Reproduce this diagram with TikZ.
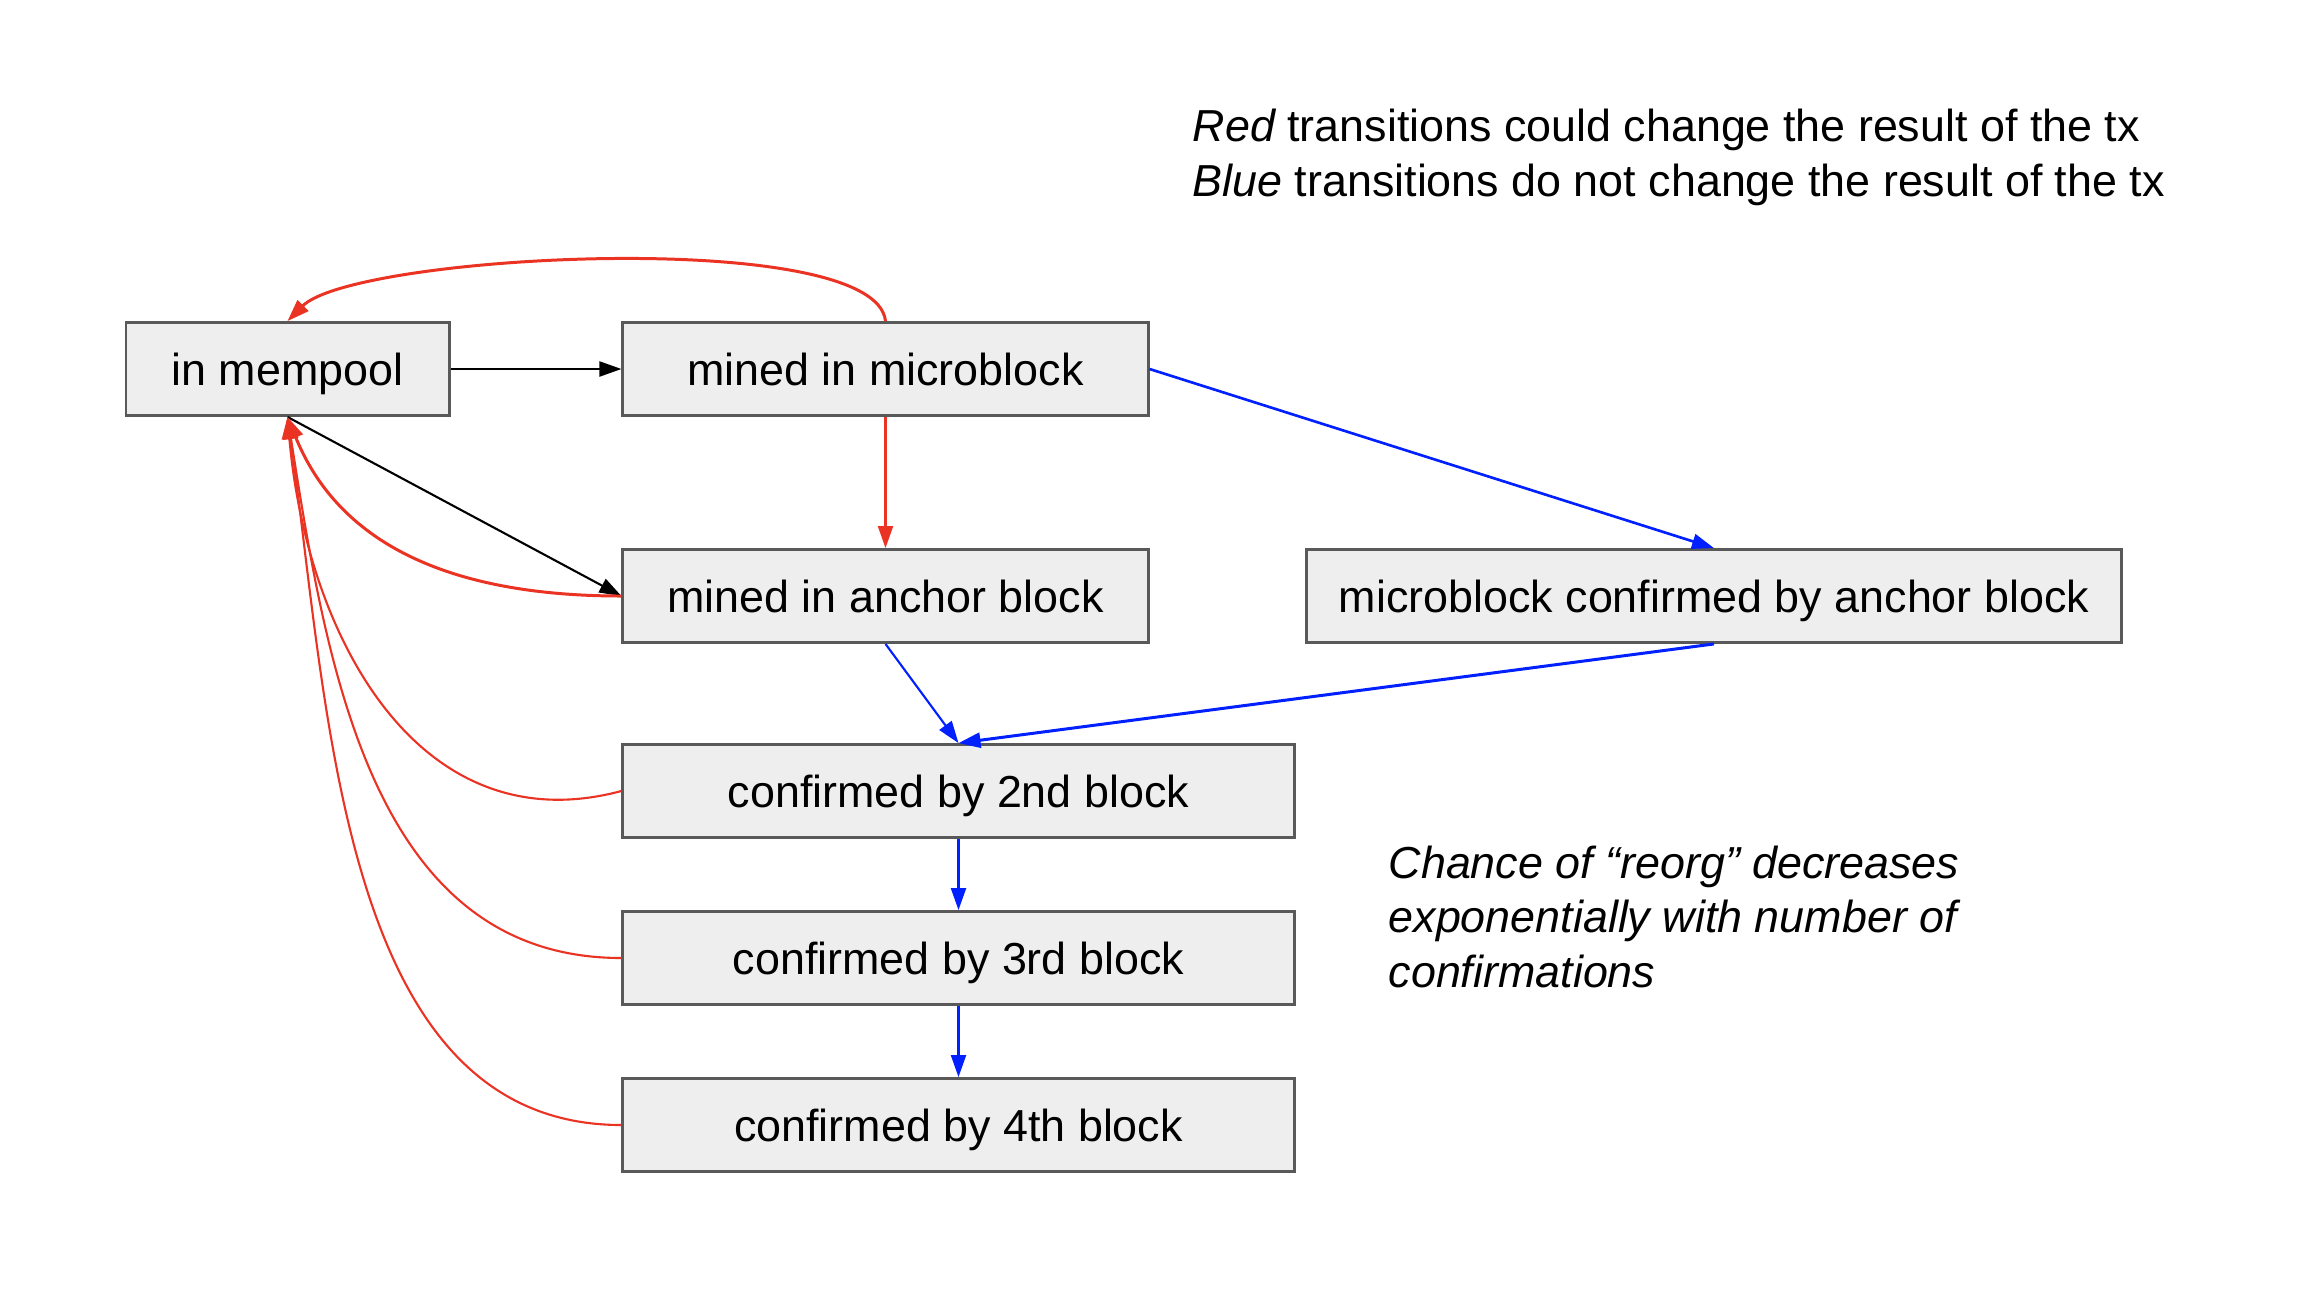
\documentclass[tikz,border=0pt]{standalone}
\usepackage{fontspec}
\setmainfont{Liberation Sans}
\usetikzlibrary{arrows.meta}
\definecolor{boxfill}{RGB}{238,238,238}
\definecolor{boxline}{RGB}{89,89,89}
\definecolor{tred}{RGB}{234,51,35}
\definecolor{tblue}{RGB}{0,32,255}

\begin{document}
\begin{tikzpicture}[x=0.01cm, y=-0.01cm, >={Triangle[length=2.2mm, width=1.5mm]},
    box/.style={draw=boxline, fill=boxfill, line width=0.8pt, minimum height=0.93cm,
        inner sep=0pt, text height=9.1pt, text depth=0pt, font=\fontsize{12.75}{15.4}\selectfont},
    note/.style={anchor=base west, align=left, inner sep=0pt},
    redln/.style={->, color=tred, line width=0.6pt},
    blueln/.style={->, color=tblue, line width=0.6pt}]
    \useasboundingbox (0,0) rectangle (2300,1290);
    % states of the tx
    \node[box, minimum width=3.23cm] (pool) at (287.5,369) {in mempool};
    \node[box, minimum width=5.25cm] (micro) at (885.5,369) {mined in microblock};
    \node[box, minimum width=5.25cm] (anchor) at (885.5,596) {mined in anchor block};
    \node[box, minimum width=8.14cm] (mbconf) at (1714,596) {microblock confirmed by anchor block};
    \foreach \n/\y in {2nd/791, 3rd/958, 4th/1125} {
        \node[box, minimum width=6.71cm] (conf\n) at (958.5,\y) {confirmed by \n\ block};
    }
    % notes (base = last line)
    \node[note, font=\fontsize{12.75}{15.4}\selectfont] (legend) at (1192,196)
        {{\itshape Red} transitions could change the result of the tx\\
         {\itshape Blue} transitions do not change the result of the tx};
    \node[note, font=\fontsize{12.75}{15.4}\selectfont\itshape] (reorg) at (1388,987)
        {Chance of “reorg” decreases\\exponentially with number of\\confirmations};
    % black transitions
    \draw[->, line width=0.6pt] (pool) -- (micro);
    \draw[->, line width=0.6pt] (pool.south) -- (anchor.west);
    % red transitions
    \draw[redln, line width=0.85pt] (micro.north) to[out=96, in=45, out distance=0.95cm, in distance=0.95cm] (pool.north);
    \draw[redln] (micro) -- (anchor);
    \draw[redln, line width=0.85pt] (anchor.west) to[out=180, in=-68, out distance=1.5cm, in distance=1.5cm] (pool.south);
    \foreach \n/\o/\i/\d/\e in {2nd/195/-85/2.1cm/2.2cm, 3rd/180/-81/2.5cm/2.5cm, 4th/180/-82/2.8cm/3cm} {
        \draw[redln] (conf\n.west) to[out=\o, in=\i, out distance=\d, in distance=\e] (pool.south);
    }
    % blue transitions
    \draw[blueln, line width=0.75pt] (micro.east) -- (mbconf.north);
    \draw[blueln] (anchor.south) -- (conf2nd.north);
    \draw[blueln, line width=0.85pt] (mbconf.south) -- (conf2nd.north);
    \draw[blueln] (conf2nd) -- (conf3rd);
    \draw[blueln] (conf3rd) -- (conf4th);
\end{tikzpicture}
\end{document}
